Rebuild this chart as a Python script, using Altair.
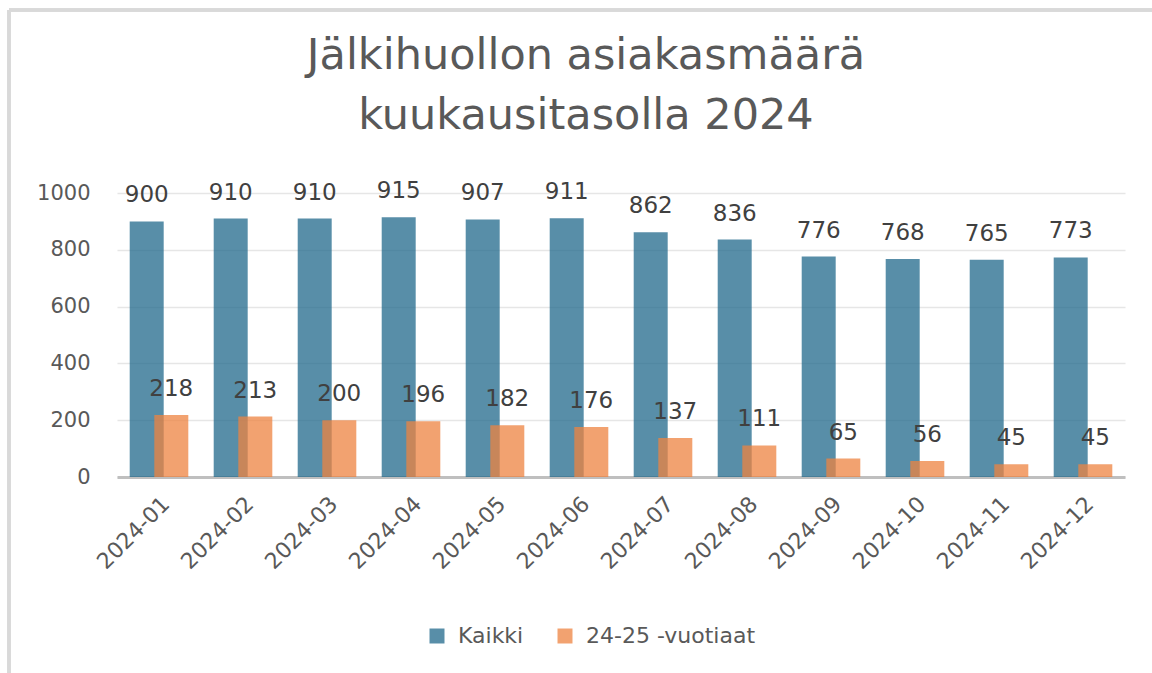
import altair as alt
import pandas as pd

months = ["2024-01", "2024-02", "2024-03", "2024-04", "2024-05", "2024-06",
          "2024-07", "2024-08", "2024-09", "2024-10", "2024-11", "2024-12"]
kaikki = [900, 910, 910, 915, 907, 911, 862, 836, 776, 768, 765, 773]
nuoret = [218, 213, 200, 196, 182, 176, 137, 111, 65, 56, 45, 45]
series = ["Kaikki", "24-25 -vuotiaat"]
colors = ["#20688B", "#EE8340"]
y_ticks = [0, 200, 400, 600, 800, 1000]

rows = []
for s, vals in zip(series, [kaikki, nuoret]):
    for m, v in zip(months, vals):
        rows.append({"kk": m, "sarja": s, "arvo": v})
df = pd.DataFrame(rows)

FONT = "DejaVu Sans"
GRAY = "#595959"

x_enc = alt.X("kk:N", sort=months,
              scale=alt.Scale(paddingInner=0, paddingOuter=0),
              axis=alt.Axis(title=None, labelAngle=-45, labelFontSize=22,
                            labelColor=GRAY, labelFont=FONT, ticks=False,
                            domainColor="#BFBFBF", domainWidth=3,
                            labelPadding=16))
xo_enc = alt.XOffset("sarja:N", sort=series,
                     scale=alt.Scale(domain=series, paddingInner=0, paddingOuter=0.707))
y_enc = alt.Y("arvo:Q", scale=alt.Scale(domain=[0, 1000]),
              axis=alt.Axis(title=None, values=y_ticks, format="d", labelFontSize=21,
                            labelColor=GRAY, labelFont=FONT, ticks=False,
                            domain=False, gridColor="#E6E6E6", gridWidth=1.5,
                            labelPadding=27))

bars = alt.Chart(df).mark_bar(width=34, opacity=0.75).encode(
    x=x_enc, xOffset=xo_enc, y=y_enc,
    color=alt.Color("sarja:N", sort=series,
                    scale=alt.Scale(domain=series, range=colors),
                    legend=alt.Legend(title=None, orient="none", direction="horizontal",
                                      legendX=309, legendY=432,
                                      symbolType="square", symbolSize=225,
                                      symbolOpacity=0.75, symbolStrokeWidth=0,
                                      labelFontSize=22, labelColor=GRAY, labelFont=FONT,
                                      labelOffset=10, columnPadding=30, labelLimit=400)),
)

labels = alt.Chart(df).mark_text(fontSize=23, font=FONT, color="#404040",
                                 baseline="alphabetic", dy=-19).encode(
    x=x_enc, xOffset=xo_enc, y=y_enc, text="arvo:Q")

border_left = alt.Chart(df).mark_rule(color="#D9D9D9", strokeWidth=3).encode(
    x=alt.value(-108), y=alt.value(-183), y2=alt.value(480))
border_top = alt.Chart(df).mark_rule(color="#D9D9D9", strokeWidth=3).encode(
    x=alt.value(-108), x2=alt.value(1035), y=alt.value(-183))

chart = alt.layer(border_left, border_top, bars, labels).properties(
    width=1008, height=284,
    background="white",
    autosize=alt.AutoSizeParams(type="none"),
    padding={"left": 117, "top": 193, "right": 27, "bottom": 196},
    title=alt.TitleParams(["Jälkihuollon asiakasmäärä", "kuukausitasolla 2024"],
                          fontSize=43, font=FONT, fontWeight="normal", color=GRAY,
                          anchor="middle", frame="group", baseline="top",
                          lineHeight=60, offset=-129, dx=-35),
).configure_view(stroke=None, strokeWidth=0)

chart.save("out.html", embed_options={"renderer": "svg", "actions": False})
